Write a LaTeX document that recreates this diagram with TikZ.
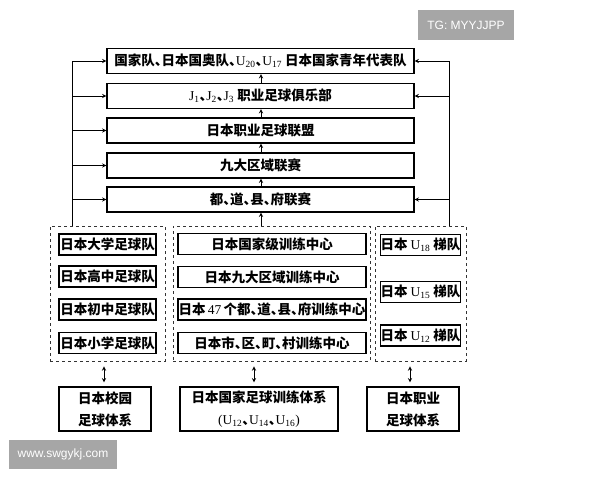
\documentclass[tikz,border=0pt]{standalone}
\usepackage{fontspec}
\setmainfont{Liberation Serif}
\newfontfamily\cjk{Noto Sans CJK SC}
\newfontfamily\wmfont{Liberation Sans}
\usetikzlibrary{arrows}
\newcommand{\lat}[2]{{\rmfamily\mdseries #1\textsubscript{#2}}}
\newcommand{\dun}{\makebox[0.5em][l]{\cjk 、}}

\begin{document}
\begin{tikzpicture}[x=1pt,y=-1pt,>=stealth]
\tikzset{
	% solid boxes
	lsbox/.style={
		rectangle,
		draw=black, line width=1.3pt,
		minimum height=25pt,
		inner sep=0pt,
		font=\cjk\bfseries\fontsize{13.5}{22}\selectfont},
	% dashed frames
	kuang/.style={
		rectangle,
		draw=black!80, line width=0.9pt,
		dash pattern=on 3pt off 3pt,
		inner sep=0pt},
	% watermark boxes
	shuiyin/.style={
		rectangle,
		fill=black!35,
		text=white,
		inner sep=0pt,
		font=\wmfont\fontsize{12}{14}\selectfont},
	% arrow style
	jt/.style={->, line width=0.9pt},
	sjt/.style={<->, line width=0.9pt, shorten <=5pt, shorten >=4pt}
}
\useasboundingbox (0,0) rectangle (600,480);

%watermarks
\node[shuiyin,minimum width=96pt,minimum height=30pt] at (466,25) (tg) {TG: MYYJJPP};
\node[shuiyin,minimum width=108pt,minimum height=29pt] at (63,454.5) (www) {www.swgykj.com};

%league ladder
\node[lsbox,minimum width=307pt] at (260.5,61) (b1) {国家队\dun 日本国奥队\dun\lat{U}{20}\dun\lat{U}{17} 日本国家青年代表队};
\node[lsbox,minimum width=307pt] at (260.5,96) (b2) {\lat{J}{1}\dun\lat{J}{2}\dun\lat{J}{3} 职业足球俱乐部};
\node[lsbox,minimum width=307pt] at (260.5,130.5) (b3) {日本职业足球联盟};
\node[lsbox,minimum width=307pt] at (260.5,165.5) (b4) {九大区域联赛};
\node[lsbox,minimum width=307pt] at (260.5,199.5) (b5) {都\dun 道\dun 县\dun 府联赛};

%dashed frames
\node[kuang,minimum width=115pt,minimum height=135pt] at (107.5,293.5) (kl) {};
\node[kuang,minimum width=197pt,minimum height=135pt] at (271.5,293.5) (km) {};
\node[kuang,minimum width=91pt,minimum height=135pt] at (420.5,293.5) (kr) {};

%school teams
\node[lsbox,minimum width=97pt,minimum height=21pt] at (107.5,244.5) (l1) {日本大学足球队};
\node[lsbox,minimum width=97pt,minimum height=21pt] at (107.5,276.5) (l2) {日本高中足球队};
\node[lsbox,minimum width=97pt,minimum height=21pt] at (107.5,309.5) (l3) {日本初中足球队};
\node[lsbox,minimum width=97pt,minimum height=21pt] at (107.5,343) (l4) {日本小学足球队};
%training centres
\node[lsbox,minimum width=188pt,minimum height=21pt] at (272,244) (m1) {日本国家级训练中心};
\node[lsbox,minimum width=188pt,minimum height=21pt] at (272,277) (m2) {日本九大区域训练中心};
\node[lsbox,minimum width=188pt,minimum height=21pt] at (272,309.5) (m3) {日本\,{\rmfamily\mdseries 47}\,个都\dun 道\dun 县\dun 府训练中心};
\node[lsbox,minimum width=188pt,minimum height=21pt] at (272,343) (m4) {日本市\dun 区\dun 町\dun 村训练中心};
%youth ladders
\node[lsbox,minimum width=79pt,minimum height=21pt] at (420.5,245) (r1) {日本 \lat{U}{18} 梯队};
\node[lsbox,minimum width=79pt,minimum height=21pt] at (420.5,292) (r2) {日本 \lat{U}{15} 梯队};
\node[lsbox,minimum width=79pt,minimum height=21pt] at (420.5,335.5) (r3) {日本 \lat{U}{12} 梯队};

%systems
\node[lsbox,minimum width=92pt,minimum height=44pt,align=center] at (105,409) (s1) {日本校园\\足球体系};
\node[lsbox,minimum width=158pt,minimum height=44pt,align=center] at (259,409) (s2) {日本国家足球训练体系\\{\rmfamily\mdseries (}\lat{U}{12}\dun\lat{U}{14}\dun\lat{U}{16}{\rmfamily\mdseries )}};
\node[lsbox,minimum width=92pt,minimum height=44pt,align=center] at (413,409) (s3) {日本职业\\足球体系};

%upward arrows
\coordinate (kt) at (261,226);
\draw[jt] (kt) -- (b5.south -| kt);
\draw[jt] (b5.north -| kt) -- (b4.south -| kt);
\draw[jt] (b4.north -| kt) -- (b3.south -| kt);
\draw[jt] (b3.north -| kt) -- (b2.south -| kt);
\draw[jt] (b2.north -| kt) -- (b1.south -| kt);

%left side
\coordinate (lb) at (72,226);
\coordinate (lt) at (72,61);
\draw[line width=0.9pt] (lb) -- (lt);
\foreach \b in {b1,b2,b3,b4,b5}
	\draw[jt] (\b.west -| lb) -- (\b.west);
%right side
\coordinate (rb) at (449,226);
\coordinate (rt) at (449,61);
\draw[line width=0.9pt] (rb) -- (rt);
\foreach \b in {b1,b2,b5}
	\draw[jt] (\b.east -| rb) -- (\b.east);

%double arrows
\draw[sjt] (kl.south -| 104,0) -- (s1.north -| 104,0);
\draw[sjt] (km.south -| 254,0) -- (s2.north -| 254,0);
\draw[sjt] (kr.south -| 410,0) -- (s3.north -| 410,0);

\end{tikzpicture}
\end{document}
